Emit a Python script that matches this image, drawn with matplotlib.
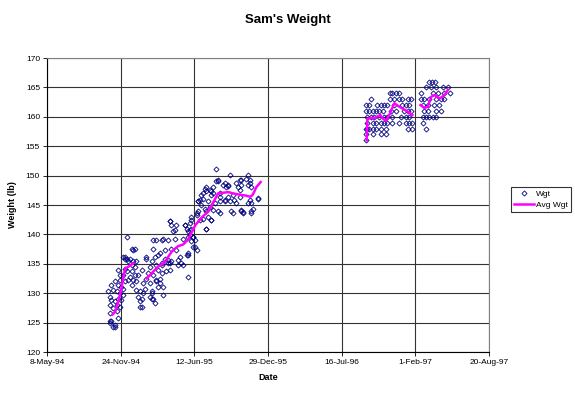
import numpy as np
import matplotlib
matplotlib.use('Agg')
import matplotlib.pyplot as plt
import matplotlib.dates as mdates

plt.rcParams['font.family'] = ['Liberation Sans', 'DejaVu Sans']

# day offsets are counted from 8-May-94
START = np.datetime64('1994-05-08')

# --- weigh-ins, late 1994 to end of 1995 ---
wgt1_days = [166, 171, 171, 171, 175, 171, 180, 184, 175, 180, 184, 180, 189, 193, 189, 193,
             175, 189, 198, 193, 184, 198, 202, 198, 202, 207, 207, 211, 207, 211, 216, 193,
             198, 216, 211, 220, 230, 234, 238, 216, 225, 230, 234, 238, 243, 230, 238, 234,
             243, 247, 225, 230, 220, 243, 252, 247, 257, 261, 252, 266, 261, 279, 288, 284,
             270, 275, 288, 297, 302, 306, 311, 311, 297, 284, 270, 293, 320, 324, 333, 329,
             338, 288, 311, 329, 320, 338, 342, 302, 279, 257, 315, 293, 315, 279, 284, 252,
             257, 297, 306, 379, 383, 356, 333, 360, 302, 311, 270, 284, 184, 171, 207, 211,
             297, 315, 347, 369, 383, 288, 333, 338, 347, 374, 379, 383, 388, 392, 388, 396,
             392, 401, 396, 383, 306, 329, 365, 369, 356, 392, 406, 410, 415, 424, 433, 437,
             446, 433, 428, 442, 451, 464, 437, 424, 419, 415, 410, 428, 433, 442, 446, 451,
             460, 464, 460, 496, 487, 482, 491, 514, 518, 523, 528, 546, 541, 550, 546, 555,
             469, 491, 505, 509, 523, 496, 469, 500, 528, 532, 550, 555, 559, 555, 573, 455,
             482, 514, 423, 446, 469, 410, 482, 419, 469, 504, 406, 392, 446, 388, 374, 351,
             433, 396, 333, 406, 401, 382, 351, 550, 433, 450, 463, 477, 491, 523, 528, 572,
             545, 528, 531, 555]
wgt1_vals = [130.3, 129.4, 128.0, 126.6, 125.2, 124.9, 124.3, 124.6, 131.4, 130.5, 128.6, 127.4,
             126.9, 125.7, 128.0, 129.1, 128.8, 130.3, 130.0, 131.4, 132.0, 132.2, 131.1, 127.7,
             128.8, 129.7, 130.8, 132.0, 133.1, 134.2, 133.7, 133.9, 133.1, 135.9, 136.2, 135.4,
             137.6, 137.3, 137.6, 139.6, 135.9, 134.8, 135.4, 134.5, 135.4, 133.7, 133.1, 132.2,
             132.0, 133.1, 132.8, 131.4, 132.2, 130.5, 130.3, 129.4, 129.1, 130.0, 128.6, 130.8,
             131.7, 129.4, 129.1, 130.3, 132.5, 133.4, 133.1, 132.0, 131.1, 132.5, 133.4, 134.8,
             134.8, 135.4, 135.9, 136.2, 135.9, 133.7, 133.9, 135.1, 135.4, 139.0, 139.0, 139.0,
             137.3, 137.6, 140.5, 133.9, 134.5, 133.9, 129.7, 128.3, 131.1, 131.7, 129.1, 127.7,
             127.7, 132.2, 131.7, 136.5, 132.8, 134.8, 135.1, 136.2, 136.5, 135.1, 136.2, 130.0,
             124.3, 125.2, 136.2, 135.9, 139.0, 139.2, 139.2, 139.2, 139.5, 137.6, 142.2, 141.6,
             140.7, 141.6, 141.0, 140.5, 140.7, 141.0, 139.9, 139.6, 138.8, 139.0, 137.9, 136.8,
             136.8, 135.6, 135.1, 134.8, 135.6, 143.0, 143.3, 143.9, 142.4, 142.7, 141.0, 143.0,
             142.4, 143.9, 144.4, 144.7, 144.1, 143.9, 145.6, 146.1, 146.7, 145.9, 145.6, 147.8,
             147.3, 147.6, 147.3, 147.0, 149.0, 149.3, 151.2, 150.1, 148.1, 148.7, 148.4, 148.7,
             148.1, 147.6, 149.3, 150.1, 149.5, 149.3, 148.4, 148.1, 147.0, 146.4, 146.7, 145.9,
             146.4, 145.6, 145.6, 143.9, 143.9, 143.6, 145.9, 145.3, 144.4, 143.9, 146.1, 145.3,
             145.9, 145.3, 147.0, 146.7, 146.4, 145.6, 145.6, 145.0, 143.6, 143.6, 143.6, 142.4,
             142.4, 141.9, 141.6, 141.6, 141.0, 139.6, 142.2, 137.3, 137.9, 136.5, 137.3, 148.7,
             148.1, 148.0, 149.0, 148.4, 148.2, 149.2, 148.4, 146.2, 145.3, 144.1, 143.8, 143.6]

# --- weigh-ins, autumn 1996 to Feb 1997 ---
wgt2_days = [930, 938, 948, 957,
             880, 930, 943, 957, 965, 979, 988,
             866, 875, 897, 907, 916, 924, 943, 965, 975, 984,
             866, 875, 884, 893, 902, 911, 934, 948, 970, 979, 988,
             870, 880, 889, 902, 916, 924, 938, 961, 975, 984,
             870, 884, 893, 907, 916, 924, 938, 957, 975, 984, 992,
             866, 870, 875, 884, 893, 907, 921, 979, 992,
             866, 884, 907, 921,
             866]
wgt2_vals = [164] * 4 + [163] * 7 + [162] * 10 + [161] * 11 + [160] * 10 + \
            [159] * 11 + [158] * 9 + [157] * 4 + [156]

# --- weigh-ins, spring 1997 ---
wgt3_days = [1038, 1046, 1054,
             1030, 1043, 1057, 1076, 1089,
             1016, 1049, 1062, 1079, 1095,
             1016, 1024, 1038, 1057, 1070, 1079,
             1022, 1035, 1051, 1065,
             1024, 1035, 1057, 1070,
             1022, 1030, 1038, 1049, 1057,
             1022,
             1030]
wgt3_vals = [166] * 3 + [165] * 5 + [164] * 5 + [163] * 6 + [162] * 4 + \
            [161] * 4 + [160] * 5 + [159] + [158]

# --- moving average pieces ---
avg1a_days = [178, 185, 194, 203, 207, 212, 221, 235]
avg1a_vals = [126.4, 126.8, 128.6, 131.1, 132.5, 134.2, 134.5, 135.1]
avg1b_days = [271, 280, 289, 298, 303, 317, 326, 339, 348, 356, 370, 384, 389, 395, 403,
              422, 438, 450, 465, 480, 493, 503, 520, 540, 552, 558, 563, 568, 580]
avg1b_vals = [132.5, 133.1, 133.7, 134.3, 134.6, 135.1, 135.9, 137.1, 137.6, 138.0, 138.3,
              139.2, 139.9, 140.6, 141.6, 143.0, 143.9, 145.3, 147.0, 147.1, 147.2, 147.0,
              146.8, 146.6, 146.4, 146.7, 147.3, 148.0, 148.9]
avg2_days = [868, 870, 878, 889, 898, 905, 912, 920, 930, 943, 957, 979, 992]
avg2_vals = [156.0, 159.6, 159.8, 159.8, 160.1, 160.3, 159.7, 159.3, 160.4, 162.3, 161.7,
             160.9, 160.3]
avg3_days = [1014, 1025, 1034, 1043, 1052, 1066, 1079, 1089]
avg3_vals = [162.0, 161.5, 161.7, 163.4, 163.7, 163.1, 163.7, 164.6]


def to_dates(days):
    return START + np.array(days).astype('timedelta64[D]')


fig = plt.figure(figsize=(5.75, 3.93), dpi=100)
ax = fig.add_axes([0.0817, 0.1043, 0.7687, 0.7481])

mk = dict(linestyle='none', marker='D', markersize=2.6, markerfacecolor='none',
          markeredgecolor='#000080', markeredgewidth=0.6)
ax.plot(to_dates(wgt1_days), wgt1_vals, label='Wgt', **mk)
ax.plot(to_dates(wgt2_days), wgt2_vals, **mk)
ax.plot(to_dates(wgt3_days), wgt3_vals, **mk)

ln = dict(color='#FF00FF', linewidth=1.8)
ax.plot(to_dates(avg1a_days), avg1a_vals, label='Avg Wgt', **ln)
ax.plot(to_dates(avg1b_days), avg1b_vals, **ln)
ax.plot(to_dates(avg2_days), avg2_vals, **ln)
ax.plot(to_dates(avg3_days), avg3_vals, **ln)

# axes
xticks = to_dates(np.arange(0, 1201, 200))
ax.set_xlim(xticks[0], xticks[-1])
ax.set_xticks(xticks)
ax.xaxis.set_major_formatter(plt.FuncFormatter(
    lambda v, p: f"{mdates.num2date(v).day}-{mdates.num2date(v).strftime('%b-%y')}"))
ax.set_ylim(120, 170)
ax.set_yticks(np.arange(120, 171, 5))

ax.grid(True, color='#333333', linewidth=0.8)
ax.set_axisbelow(True)
for s in ['top', 'right']:
    ax.spines[s].set_color('#808080')
for s in ['left', 'bottom']:
    ax.spines[s].set_color('black')
    ax.spines[s].set_linewidth(0.8)
ax.tick_params(labelsize=6, length=3, width=0.6, direction='out', pad=2)

ax.set_xlabel('Date', fontsize=6.5, fontweight='bold', labelpad=5)
ax.set_ylabel('Weight (lb)', fontsize=6.5, fontweight='bold', labelpad=6)
fig.text(0.5, 0.948, "Sam's Weight", ha='center', va='center', fontsize=9.5, fontweight='bold')

leg = fig.legend(loc='upper left', bbox_to_anchor=(0.889, 0.523), fontsize=6,
                 frameon=True, fancybox=False, edgecolor='black', handlelength=2.4,
                 borderpad=0.35, labelspacing=0.35, handletextpad=0.2, borderaxespad=0)
leg.get_frame().set_linewidth(0.8)

fig.savefig('out.png', dpi=100)
